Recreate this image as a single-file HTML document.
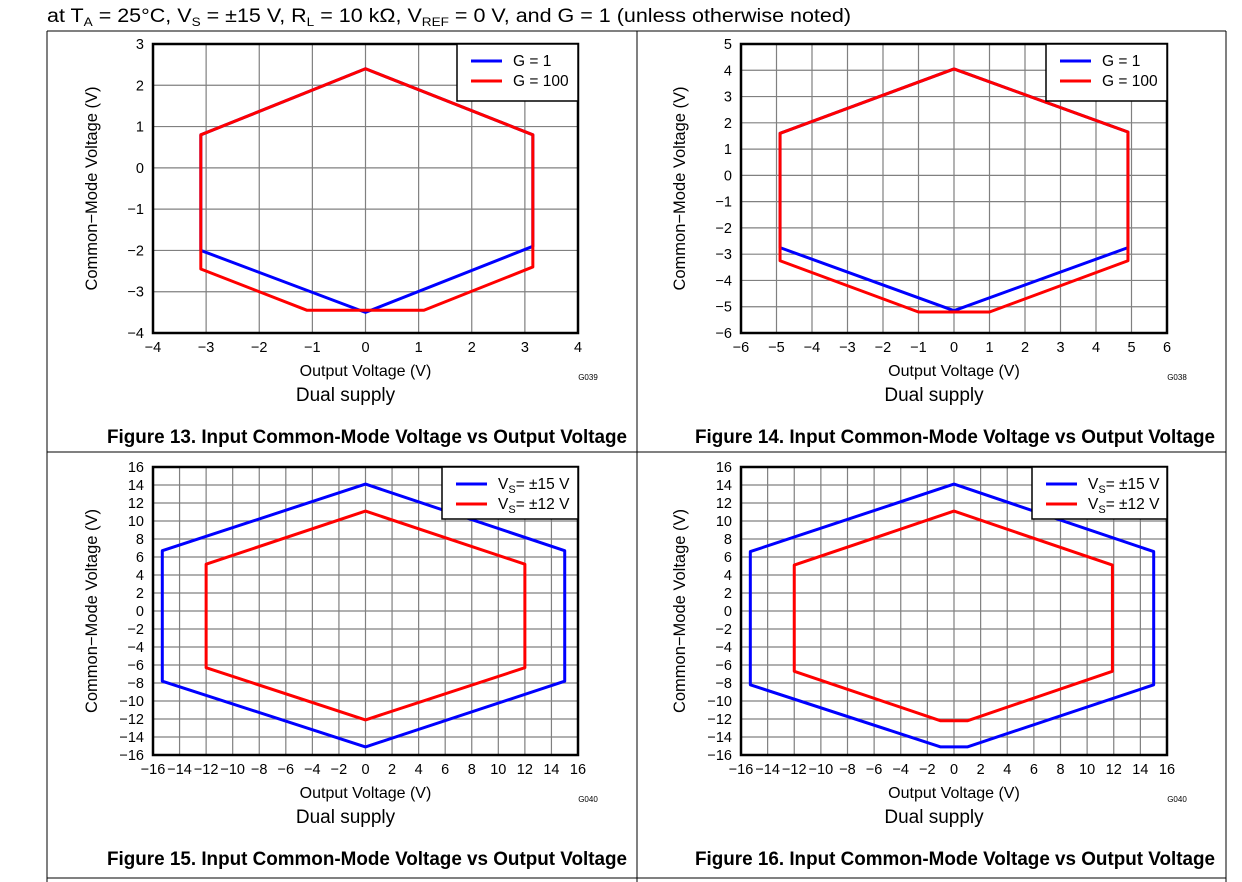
<!DOCTYPE html>
<html><head><meta charset="utf-8"><style>
body{margin:0;background:#fff;width:1242px;height:882px;overflow:hidden}
svg{position:absolute;left:0;top:0}
text{font-family:"Liberation Sans",Arial,sans-serif;fill:#000}
</style></head><body>
<svg id="s" width="1242" height="882">
<text x="47" y="22" font-size="19" textLength="804" lengthAdjust="spacingAndGlyphs">at T<tspan font-size="12" dy="4">A</tspan><tspan dy="-4"> = 25°C, V</tspan><tspan font-size="12" dy="4">S</tspan><tspan dy="-4"> = ±15 V, R</tspan><tspan font-size="12" dy="4">L</tspan><tspan dy="-4"> = 10 kΩ, V</tspan><tspan font-size="12" dy="4">REF</tspan><tspan dy="-4"> = 0 V, and G = 1 (unless otherwise noted)</tspan></text>
<g stroke="#000" stroke-width="1">
<line x1="47" y1="31" x2="1226" y2="31"/>
<line x1="47" y1="452" x2="1226" y2="452"/>
<line x1="47" y1="878" x2="1226" y2="878"/>
<line x1="47" y1="31" x2="47" y2="882"/>
<line x1="637" y1="31" x2="637" y2="882"/>
<line x1="1226" y1="31" x2="1226" y2="882"/>
</g>
</svg>
<script>
const f13Blue=[[-3.1,0.8],[0,2.4],[3.15,0.8],[3.15,-1.9],[0,-3.5],[-3.1,-2]];
const f13Red=[[-3.1,0.8],[0,2.4],[3.15,0.8],[3.15,-2.4],[1.1,-3.45],[-1.1,-3.45],[-3.1,-2.45]];
const f14Blue=[[-4.9,1.6],[0,4.05],[4.9,1.65],[4.9,-2.75],[0,-5.15],[-4.9,-2.75]];
const f14Red=[[-4.9,1.6],[0,4.05],[4.9,1.65],[4.9,-3.25],[1,-5.2],[-1,-5.2],[-4.9,-3.25]];
const f15Blue=[[-15.3,6.7],[0,14.1],[15,6.7],[15,-7.8],[0,-15.1],[-15.3,-7.8]];
const f15Red=[[-12,5.2],[0,11.1],[12,5.2],[12,-6.3],[0,-12.1],[-12,-6.3]];
const f16Blue=[[-15.3,6.6],[0,14.1],[15,6.6],[15,-8.2],[1,-15.1],[-1,-15.1],[-15.3,-8.2]];
const f16Red=[[-12,5.1],[0,11.1],[11.9,5.1],[11.9,-6.7],[1,-12.2],[-1,-12.2],[-12,-6.7]];
const f13Legend=["G = 1","G = 100"];
const f15Legend=["±15 V","±12 V"];

const NS="http://www.w3.org/2000/svg";
const svg=document.getElementById('s');
function mk(tag,attrs,parent){const e=document.createElementNS(NS,tag);for(const k in attrs)e.setAttribute(k,attrs[k]);(parent||svg).appendChild(e);return e;}
function txt(x,y,s,size,anchor,parent){const t=mk('text',{x:x,y:y,'font-size':size,'text-anchor':anchor||'middle'},parent);t.textContent=s;return t;}
function fmt(v){return v<0?'\u2212'+(-v):''+v;}

function chart(c){
  const g=mk('g',{});
  
  
  const X=v=>c.L+(v-c.x0)/(c.x1-c.x0)*(c.R-c.L);
  const Y=v=>c.B-(v-c.y0)/(c.y1-c.y0)*(c.B-c.T);
  const grid=mk('g',{stroke:'#808080','stroke-width':1.2},g);
  
  
  for(let v=c.x0;v<=c.x1;v+=c.dx){mk('line',{x1:X(v),y1:c.T,x2:X(v),y2:c.B},grid);}
  for(let v=c.y0;v<=c.y1;v+=c.dy){mk('line',{x1:c.L,y1:Y(v),x2:c.R,y2:Y(v)},grid);}
  const xt=mk('g',{},g);
  
  
  for(let v=c.x0;v<=c.x1;v+=c.dx){txt(X(v),c.B+19,fmt(v),14.5,'middle',xt);}
  const yt=mk('g',{},g);
  
  
  for(let v=c.y0;v<=c.y1;v+=c.dy){txt(c.L-9,Y(v)+5,fmt(v),14.5,'end',yt);}
  const series=[[c.blue,'#0000ff','series-blue'],[c.red,'#ff0000','series-red']];
  for(const [d,col,nm] of series){
    const p=mk('polygon',{points:d.map(q=>X(q[0])+','+Y(q[1])).join(' '),fill:'none',stroke:col,'stroke-width':3,'stroke-linejoin':'round'},g);
    
    
  }
  const fr=mk('rect',{x:c.L,y:c.T,width:c.R-c.L,height:c.B-c.T,fill:'none',stroke:'#000','stroke-width':2.5},g);
  
  
  const lg=mk('g',{},g);
  
  
  mk('rect',{x:c.lx,y:c.T,width:c.R-c.lx,height:c.lh,fill:'#fff',stroke:'#000','stroke-width':1.5},lg);
  const cols=['#0000ff','#ff0000'];
  for(let i=0;i<2;i++){
    const yy=c.T+17+i*20;
    const ln=mk('line',{x1:c.lx+14,y1:yy,x2:c.lx+45,y2:yy,stroke:cols[i],'stroke-width':3},lg);
    
    
    let t;
    if(c.vs){
      t=mk('text',{x:c.lx+56,y:yy+5,'font-size':15.5},lg);
      t.innerHTML='V<tspan font-size="11" dy="4">S</tspan><tspan dy="-4">= '+c.legend[i]+'</tspan>';
    } else t=txt(c.lx+56,yy+5,c.legend[i],15.5,'start',lg);
    
    
  }
  const cx=(c.L+c.R)/2;
  const yl=txt(0,0,'Common\u2212Mode Voltage (V)',16.5,'middle',g);
  yl.setAttribute('transform','translate('+(c.L-56)+','+((c.T+c.B)/2)+') rotate(-90)');
  
  
  const xl=txt(cx,c.B+43,'Output Voltage (V)',16,'middle',g);
  
  
  const gid=txt(c.R+10,c.B+47,c.gid,8,'middle',g);
  
  
  const ds=txt(cx-20,c.B+68,'Dual supply',19,'middle',g);
  
  
  const ft=txt(c.ftx,c.fty,c.title,19,'middle',g);
  ft.setAttribute('font-weight','bold');
  ft.setAttribute('textLength','520');
  ft.setAttribute('lengthAdjust','spacingAndGlyphs');
  
  
}
chart({name:'figure-13-chart',L:153,R:578,T:44,B:333,x0:-4,x1:4,dx:1,y0:-4,y1:3,dy:1,blue:f13Blue,red:f13Red,lx:457,lh:57,legend:f13Legend,vs:false,gid:'G039',title:'Figure 13. Input Common-Mode Voltage vs Output Voltage',ftx:367,fty:443});
chart({name:'figure-14-chart',L:741,R:1167,T:44,B:333,x0:-6,x1:6,dx:1,y0:-6,y1:5,dy:1,blue:f14Blue,red:f14Red,lx:1046,lh:57,legend:f13Legend,vs:false,gid:'G038',title:'Figure 14. Input Common-Mode Voltage vs Output Voltage',ftx:955,fty:443});
chart({name:'figure-15-chart',L:153,R:578,T:467,B:755,x0:-16,x1:16,dx:2,y0:-16,y1:16,dy:2,blue:f15Blue,red:f15Red,lx:442,lh:52,legend:f15Legend,vs:true,gid:'G040',title:'Figure 15. Input Common-Mode Voltage vs Output Voltage',ftx:367,fty:865});
chart({name:'figure-16-chart',L:741,R:1167,T:467,B:755,x0:-16,x1:16,dx:2,y0:-16,y1:16,dy:2,blue:f16Blue,red:f16Red,lx:1032,lh:52,legend:f15Legend,vs:true,gid:'G040',title:'Figure 16. Input Common-Mode Voltage vs Output Voltage',ftx:955,fty:865});
</script>
</body></html>
